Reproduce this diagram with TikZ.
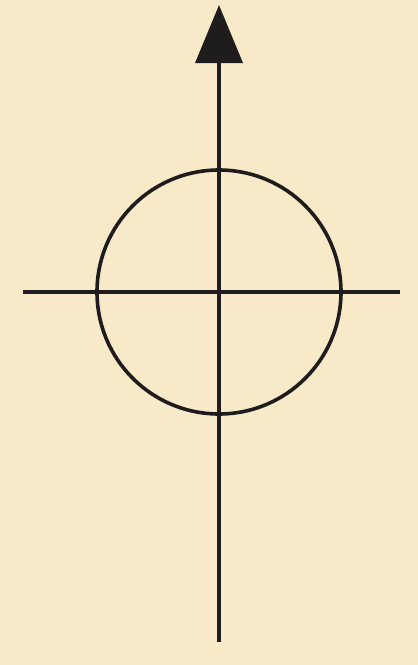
\documentclass[tikz,border=0pt]{standalone}
\usepackage{xcolor}
\usepackage{tikz}
\usetikzlibrary{arrows.meta, positioning}

\definecolor{paper}{RGB}{248,234,200}
\definecolor{ink}{RGB}{30,28,28}

\begin{document}
\begin{tikzpicture}[
    x=1pt, y=-1pt,
    axis/.style={draw=ink, line width=3.6pt},
    ring/.style={draw=ink, line width=3.6pt, circle, minimum size=244pt, inner sep=0pt},
  ]
  \fill[paper] (0,0) rectangle (418,665);
  \useasboundingbox (0,0) rectangle (418,665);

  \coordinate (origin) at (219,292);
  \coordinate (top)    at (219,5);
  \coordinate (bottom) at (219,642);
  \coordinate (left)   at (23,292);
  \coordinate (right)  at (400,292);

  \node[ring] (circ) at (origin) {};

  \draw[axis] (left) -- (right);
  \draw[axis, -{Triangle[length=58pt, width=47pt]}] (bottom) -- (top);
\end{tikzpicture}
\end{document}
